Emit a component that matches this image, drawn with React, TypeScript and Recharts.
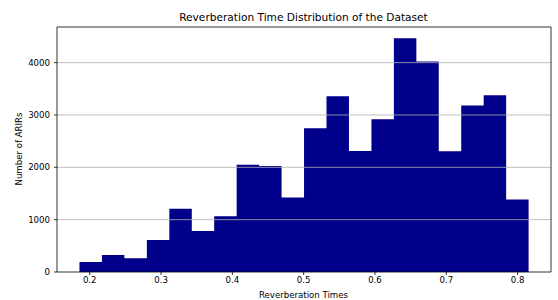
import { ComposedChart, Area, XAxis, YAxis, ReferenceLine } from "recharts";

// histogram bin edges (21 edges -> 20 bins) and counts per bin
const binEdges = [
  0.1856, 0.2171, 0.2486, 0.2801, 0.3116, 0.3431, 0.3745, 0.406, 0.4375, 0.469,
  0.5005, 0.532, 0.5635, 0.595, 0.6265, 0.658, 0.6894, 0.7209, 0.7524, 0.7839, 0.8154,
];
const binCounts = [
  190, 324, 261, 611, 1208, 782, 1063, 2048, 2023, 1425,
  2748, 3359, 2310, 2920, 4466, 4021, 2305, 3181, 3378, 1387,
];
const xTicks = [0.2, 0.3, 0.4, 0.5, 0.6, 0.7, 0.8];
const yTicks = [0, 1000, 2000, 3000, 4000];
const gridLines = [1000, 2000, 3000, 4000];

const X_MIN = 0.1541;
const X_MAX = 0.8468;
const Y_MAX = 4681;

const FONT = "DejaVu Sans, sans-serif";
const BAR = "#00008b";

// step area: each edge carries the count of the bin that starts there
const data = binEdges.map((x, i) => ({
  x,
  count: i < binCounts.length ? binCounts[i] : binCounts[binCounts.length - 1],
}));

export default function App() {
  const tick = { fill: "#000", fontSize: 8.6, fontFamily: FONT };
  return (
    <div style={{ position: "absolute", left: 0, top: 0, width: 558, height: 300, background: "#fff" }}>
      <ComposedChart width={558} height={300} data={data} margin={{ top: 27, right: 7, bottom: 0, left: 0 }}>
        <XAxis
          dataKey="x"
          type="number"
          domain={[X_MIN, X_MAX]}
          ticks={xTicks}
          tickFormatter={(v: number) => v.toFixed(1)}
          allowDataOverflow
          height={28}
          tick={tick}
          tickSize={3}
          tickMargin={2}
          axisLine={{ stroke: "#000", strokeWidth: 0.8 }}
          tickLine={{ stroke: "#000", strokeWidth: 0.8 }}
          label={{
            content: () => (
              <text x={303.5} y={297.5} textAnchor="middle" fontSize={8.6} fontFamily={FONT} fill="#000">
                Reverberation Times
              </text>
            ),
          }}
        />
        <YAxis
          type="number"
          domain={[0, Y_MAX]}
          ticks={yTicks}
          allowDataOverflow
          width={57}
          tick={tick}
          tickSize={3}
          tickMargin={4}
          axisLine={{ stroke: "#000", strokeWidth: 0.8 }}
          tickLine={{ stroke: "#000", strokeWidth: 0.8 }}
          label={{
            content: () => (
              <text
                x={19}
                y={149}
                transform="rotate(-90 19 149)"
                textAnchor="middle"
                dominantBaseline="central"
                fontSize={8.6}
                fontFamily={FONT}
                fill="#000"
              >
                Number of ARIRs
              </text>
            ),
          }}
        />
        <Area
          type="stepAfter"
          dataKey="count"
          fill={BAR}
          fillOpacity={1}
          stroke="none"
          isAnimationActive={false}
          dot={false}
          activeDot={false}
        />
        {gridLines.map((y) => (
          <ReferenceLine key={y} y={y} stroke="#b0b0b0" strokeWidth={0.8} />
        ))}
        {/* top and right spines */}
        <ReferenceLine
          y={Y_MAX}
          stroke="#000"
          strokeWidth={0.8}
          label={{
            content: () => (
              <text x={303.5} y={21} textAnchor="middle" fontSize={10.6} fontFamily={FONT} fill="#000">
                Reverberation Time Distribution of the Dataset
              </text>
            ),
          }}
        />
        <ReferenceLine x={X_MAX} stroke="#000" strokeWidth={0.8} />
      </ComposedChart>
    </div>
  );
}
